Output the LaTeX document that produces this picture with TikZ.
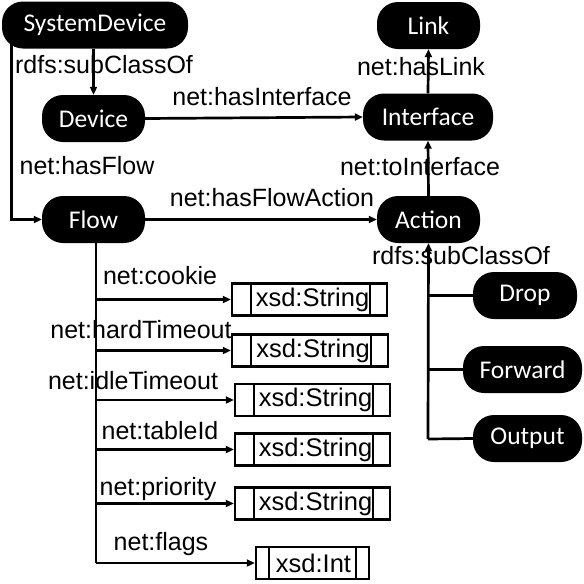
\documentclass[tikz,border=0pt]{standalone}
\usepackage{fontspec}
\setmainfont{Liberation Sans}
\newfontfamily\pillfont{Carlito}
\usetikzlibrary{arrows.meta}
\begin{document}
\begin{tikzpicture}[x=1pt,y=-1pt,
  pill/.style={fill=black,text=white,rounded corners=21pt,minimum height=47pt,inner sep=0pt,
    font=\pillfont\fontsize{25.5}{28}\selectfont},
  lbl/.style={inner sep=0pt,text height=.72em,text depth=.21em,font=\fontsize{25}{28}\selectfont},
  xsd/.style={draw=black,line width=2.4pt,minimum height=32pt,inner sep=0pt,font=\fontsize{25.5}{28}\selectfont},
  conn/.style={line width=2.7pt},
  arr/.style={conn,-{Triangle[length=8pt,width=7pt]}}]
\useasboundingbox (0,0) rectangle (584,584);
% pills
\node[pill,minimum width=186pt] (sd) at (95,25) {SystemDevice};
\node[pill,minimum width=103pt] (dev) at (93.5,118.5) {Device};
\node[pill,minimum width=103pt] (flow) at (93.5,219.5) {Flow};
\node[pill,minimum width=103pt] (link) at (428.5,25.5) {Link};
\node[pill,minimum width=130pt] (intf) at (428,117) {Interface};
\node[pill,minimum width=103pt] (act) at (428.5,219.5) {Action};
\node[pill,minimum width=104pt] (drop) at (525,295.5) {Drop};
\node[pill,minimum width=119pt] (fwd) at (522.5,369.5) {Forward};
\node[pill,minimum width=109pt] (out) at (527.5,438.5) {Output};
% top connectors
\draw[arr] (sd.south -| dev) -- (dev.north);
\draw[arr] ([xshift=10pt]sd.west) |- (flow.west);
\draw[arr] (dev.east) -- (intf.west);
\draw[arr] (flow.east) -- (act.west);
\draw[arr] (intf.north) -- (link.south);
\draw[arr] (act.north) -- (intf.south);
% action subclasses
\coordinate (abot) at (428,439);
\draw[arr] (abot) -- (act.south);
\draw[conn] (drop.west) -- (drop.west -| abot);
\draw[conn] (fwd.west) -- (fwd.west -| abot);
\draw[conn] (out.west) -- (abot);
% labels
\node[lbl] (l1) at (104,71) {rdfs:subClassOf};
\node[lbl] (l2) at (87,172) {net:hasFlow};
\node[lbl] (l3) at (262,103) {net:hasInterface};
\node[lbl] (l4) at (272,204) {net:hasFlowAction};
\node[lbl] (l5) at (421,73) {net:hasLink};
\node[lbl] (l6) at (420,173) {net:toInterface};
\node[lbl] (l7) at (461,262) {rdfs:subClassOf};
% xsd boxes
\node[xsd,minimum width=155pt] (b1) at (309.5,299.5) {\hspace*{6pt}xsd:String};
\node[xsd,minimum width=156pt] (b2) at (310,350.5) {\hspace*{6pt}xsd:String};
\node[xsd,minimum width=155pt] (b3) at (312.5,400) {\hspace*{6pt}xsd:String};
\node[xsd,minimum width=155pt] (b4) at (312.5,449.5) {\hspace*{6pt}xsd:String};
\node[xsd,minimum width=155pt] (b5) at (312.5,503.5) {\hspace*{6pt}xsd:String};
\node[xsd,minimum width=113pt] (b6) at (312.5,563) {\hspace*{2pt}xsd:Int};
\foreach \b in {b1,b2,b3,b4,b5}{
  \draw[line width=2.4pt] ([xshift=20pt]\b.north west) -- ([xshift=20pt]\b.south west);
  \draw[line width=2.4pt] ([xshift=-18pt]\b.north east) -- ([xshift=-18pt]\b.south east);
}
\draw[line width=2.4pt] ([xshift=14pt]b6.north west) -- ([xshift=14pt]b6.south west);
\draw[line width=2.4pt] ([xshift=-14pt]b6.north east) -- ([xshift=-14pt]b6.south east);
% flow properties
\coordinate (fbot) at (96,563);
\draw[conn] ([xshift=2.5pt]flow.south) -- (fbot);
\draw[arr] (b1.west -| fbot) -- (b1.west);
\draw[arr] (b2.west -| fbot) -- (b2.west);
\draw[arr] (b3.west -| fbot) -- (b3.west);
\draw[arr] (b4.west -| fbot) -- (b4.west);
\draw[arr] (b5.west -| fbot) -- (b5.west);
\draw[arr] (fbot) -- (b6.west);
\node[lbl] (p1) at (160,282) {net:cookie};
\node[lbl] (p2) at (141,336) {net:hardTimeout};
\node[lbl] (p3) at (133,387) {net:idleTimeout};
\node[lbl] (p4) at (160,437) {net:tableId};
\node[lbl] (p5) at (158,493) {net:priority};
\node[lbl] (p6) at (161,548) {net:flags};
\end{tikzpicture}
\end{document}
